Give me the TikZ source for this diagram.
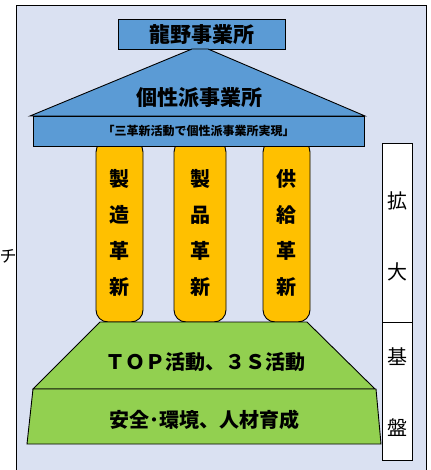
\documentclass[tikz,border=0pt]{standalone}
\usepackage{fontspec}
\newfontfamily\jpfont{Noto Sans CJK JP}
\usetikzlibrary{calc}
\definecolor{bglav}{RGB}{218,225,242}
\definecolor{roofblue}{RGB}{91,155,213}
\definecolor{pillarorange}{RGB}{255,192,0}
\definecolor{basegreen}{RGB}{146,208,80}

\begin{document}
\begin{tikzpicture}[x=1pt,y=-1pt,
    roof/.style={draw=black,fill=roofblue,line width=0.9pt},
    pillar/.style={draw=black,fill=pillarorange,rounded corners=12pt,line width=0.9pt},
    base/.style={draw=black,fill=basegreen,line width=0.9pt},
    side/.style={draw=black,fill=white,line width=0.9pt},
    bigtxt/.style={font=\jpfont\bfseries\fontsize{21}{21}\selectfont},
    coltxt/.style={font=\jpfont\bfseries\fontsize{20}{36}\selectfont,align=center},
    sidetxt/.style={font=\jpfont\fontsize{20}{71}\selectfont,align=center}
  ]
    \useasboundingbox (0,0) rectangle (430,470);
    \clip (0,0) rectangle (430,470);
    % background panel
    \draw[fill=bglav,line width=0.9pt] (16,5) rectangle (426,490);
    \node[font=\jpfont\fontsize{17}{17}\selectfont,inner sep=0pt] (cut) at (8,256) {チ};
    % pillars first, the roof and base go over them
    \draw[pillar] (96,140) rectangle (143,322);
    \draw[pillar] (174,140) rectangle (226,322);
    \draw[pillar] (263,140) rectangle (310,322);
    \node[coltxt] (p1) at (119.5,233) {製\\造\\革\\新};
    \node[coltxt] (p2) at (200,233) {製\\品\\革\\新};
    \node[coltxt] (p3) at (286.5,233) {供\\給\\革\\新};
    % roof
    \draw[roof] (118,19) rectangle (285,49);
    \draw[roof] (30,116) -- (192,49) -- (208,49) -- (365,116) -- cycle;
    \draw[roof] (33,116) rectangle (364,146);
    \node[bigtxt] (site) at (201.5,35) {龍野事業所};
    \node[bigtxt] (ideal) at (199,98) {個性派事業所};
    \node[font=\jpfont\bfseries\fontsize{12}{12}\selectfont] (motto) at (198.5,131) {「三革新活動で個性派事業所実現」};
    % base
    \draw[base] (100,322) -- (307,322) -- (375,389) -- (33,389) -- cycle;
    \draw[base] (33,389) -- (376,389) -- (381,444) -- (27,444) -- cycle;
    \node[font=\jpfont\bfseries\fontsize{20}{20}\selectfont] (top) at (205,362) {ＴＯＰ活動、３Ｓ活動};
    \node[font=\jpfont\bfseries\fontsize{20}{20}\selectfont] (safe) at (204,420) {安全･環境、人材育成};
    % side labels
    \draw[side] (382,143) rectangle (412,322);
    \draw[side] (382,322) rectangle (412,460);
    \node[sidetxt] (grow) at (397,236) {拡\\大};
    \node[sidetxt] (ground) at (397,392) {基\\盤};
\end{tikzpicture}
\end{document}
